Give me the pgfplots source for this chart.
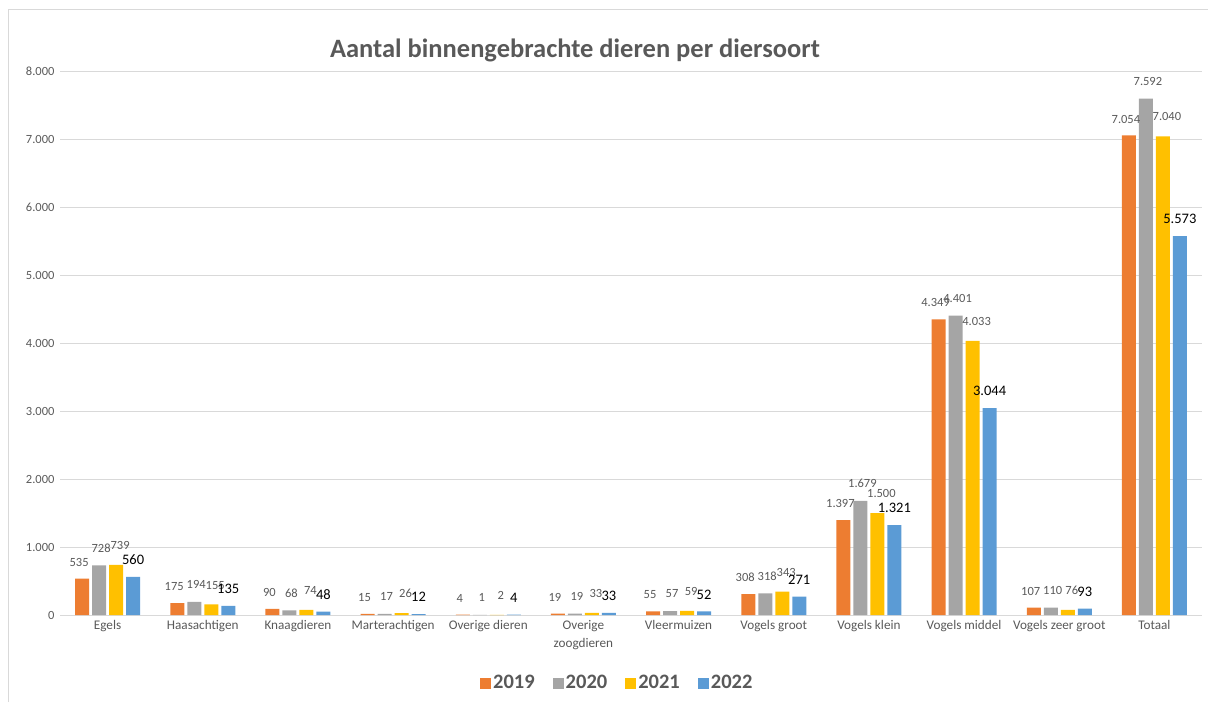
\documentclass[border=0pt]{standalone}
\usepackage{pgfplots}
\pgfplotsset{compat=1.18}
\usepackage{pgfplotstable}
\usepackage{fontspec}
\setmainfont{Carlito}
\definecolor{c19}{HTML}{ED7D31}
\definecolor{c20}{HTML}{A5A5A5}
\definecolor{c21}{HTML}{FFC000}
\definecolor{c22}{HTML}{5B9BD5}
\definecolor{txt}{HTML}{595959}
\definecolor{grd}{HTML}{D9D9D9}
\pgfplotstableread{
x a b c d
0 535 728 739 560
1 175 194 155 135
2 90 68 74 48
3 15 17 26 12
4 4 1 2 4
5 19 19 33 33
6 55 57 59 52
7 308 318 343 271
8 1397 1679 1500 1321
9 4349 4401 4033 3044
10 107 110 76 93
11 7054 7592 7040 5573
}\data
\begin{document}
\begin{tikzpicture}
\path[use as bounding box] (-60pt,-87pt) rectangle (1148pt,615pt);
\draw[grd, line width=1.5pt] (-51.5pt,-87pt) -- (-51.5pt,605.5pt) -- (1148pt,605.5pt);
\begin{axis}[
  at={(0pt,0pt)}, anchor=south west,
  scale only axis, width=1142pt, height=544pt,
  ybar=3pt, bar width=14pt,
  xmin=-0.5, xmax=11.5, ymin=0, ymax=8000,
  ytick={0,1000,...,8000},
  xtick=data,
  xticklabels={Egels,Haasachtigen,Knaagdieren,Marterachtigen,Overige dieren,{Overige\\zoogdieren},Vleermuizen,Vogels groot,Vogels klein,Vogels middel,Vogels zeer groot,Totaal},
  x tick label style={font=\fontsize{13.2}{18}\selectfont, text=txt, align=center, yshift=-2pt},
  y tick label style={font=\fontsize{12.5}{14}\selectfont, text=txt, xshift=-2pt},
  scaled y ticks=false,
  /pgf/number format/.cd, fixed, precision=0, 1000 sep={.}, assume math mode=true,
  /pgfplots/.cd,
  major tick length=0pt,
  axis x line*=bottom, axis y line*=left,
  y axis line style={draw=none},
  x axis line style={draw=grd, line width=1pt},
  ymajorgrids, grid style={draw=grd, line width=0.9pt},
  nodes near coords,
  every node near coord/.append style={font=\fontsize{12.5}{14}\selectfont, text=txt, inner sep=2pt},
  legend style={at={(0.488,-0.125)}, anchor=center, draw=none, font=\bfseries\fontsize{20.5}{22}\selectfont, text=txt, legend columns=4, /tikz/every even column/.append style={column sep=16pt}},
  legend image code/.code={\fill[#1,draw=none] (0pt,-5.5pt) rectangle (11pt,5.5pt);},
]
\addplot[fill=c19, draw=none, every node near coord/.append style={xshift=-3pt, yshift=10pt}] table[x=x,y=a]{\data};
\addplot[fill=c20, draw=none, every node near coord/.append style={xshift=2pt, yshift=11pt}] table[x=x,y=b]{\data};
\addplot[fill=c21, draw=none, every node near coord/.append style={xshift=4pt, yshift=13pt}] table[x=x,y=c]{\data};
\addplot[fill=c22, draw=none, every node near coord/.append style={xshift=0pt, yshift=10pt, text=black, font=\fontsize{14.5}{16}\selectfont}] table[x=x,y=d]{\data};
\legend{2019,2020,2021,2022}
\end{axis}
\node[text=txt, font=\bfseries\fontsize{26.5}{30}\selectfont] at (515pt,565pt) {Aantal binnengebrachte dieren per diersoort};
\end{tikzpicture}
\end{document}
